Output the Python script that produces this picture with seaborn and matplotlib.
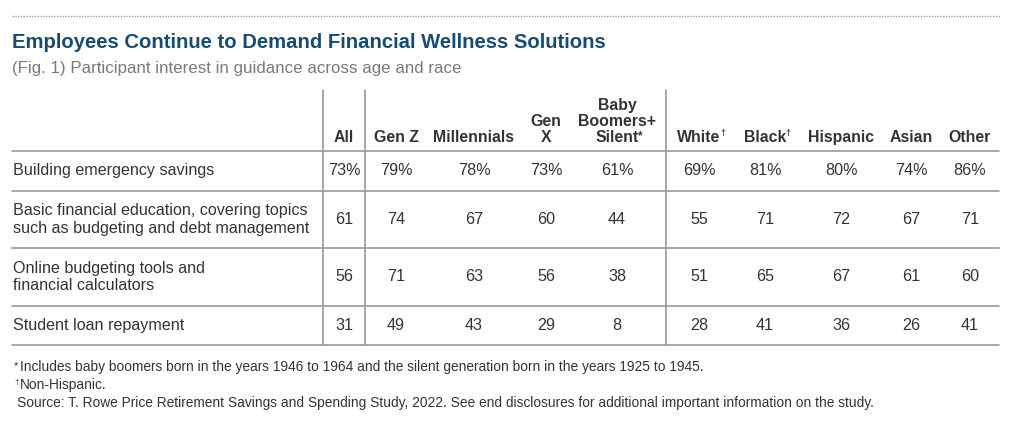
import matplotlib
matplotlib.use("Agg")
from matplotlib import pyplot as plt
from matplotlib import font_manager
import seaborn as sns

sns.set_style("white")
plt.rcParams['font.family'] = ['Liberation Sans', 'DejaVu Sans']

# 数据
title = "Employees Continue to Demand Financial Wellness Solutions"
subtitle = "(Fig. 1) Participant interest in guidance across age and race"
columns = ["All", "Gen Z", "Millennials", "Gen\nX", "Baby\nBoomers+\nSilent", "White", "Black",
           "Hispanic", "Asian", "Other"]
col_marks = ["", "", "", "", "*", "†", "†", "", "", ""]
rows = ["Building emergency savings",
        "Basic financial education, covering topics\nsuch as budgeting and debt management",
        "Online budgeting tools and\nfinancial calculators",
        "Student loan repayment"]
emergency = [73, 79, 78, 73, 61, 69, 81, 80, 74, 86]
education = [61, 74, 67, 60, 44, 55, 71, 72, 67, 71]
online_tools = [56, 71, 63, 56, 38, 51, 65, 67, 61, 60]
student_loan = [31, 49, 43, 29, 8, 28, 41, 36, 26, 41]
values = [emergency, education, online_tools, student_loan]
notes = ["Includes baby boomers born in the years 1946 to 1964 and the silent generation born in the years 1925 to 1945.",
         "Non-Hispanic.",
         "Source: T. Rowe Price Retirement Savings and Spending Study, 2022. See end disclosures for additional important information on the study."]
note_marks = ["*", "†", ""]

# 版式 (像素)
col_x = [344, 396, 474, 546, 617, 699, 765, 841, 911, 970]
row_lines = [151, 190.5, 248, 305.5, 345]
vlines = [323, 365, 666]
left, right = 12, 999

fig = plt.figure(figsize=(10.24, 4.22), dpi=100)
ax = fig.add_axes([0, 0, 1, 1])
ax.set_xlim(0, 1024)
ax.set_ylim(422, 0)
ax.axis('off')

blue = "#164c74"
grey_txt = "#7a7a7a"
body = "#333333"
line_c = "#9a9a9a"

ax.plot([left, 1000], [16, 16], color="#a0a0a0", lw=1.0, ls=(0, (1, 1)))
ax.text(left, 43, title, fontsize=14.6, fontweight='bold', color=blue, va='center')
ax.text(left, 69, subtitle, fontsize=12.2, color=grey_txt, va='center')

for y in row_lines:
    ax.plot([left, right], [y, y], color=line_c, lw=1.2)
for x in vlines:
    ax.plot([x, x], [90, 345], color=line_c, lw=1.2)

fig.canvas.draw()
renderer = fig.canvas.get_renderer()
inv = ax.transData.inverted()

# 表头
for x, name, mark in zip(col_x, columns, col_marks):
    parts = name.split("\n")
    for k, part in enumerate(reversed(parts)):
        t = ax.text(x, 142 - k * 15.8, part, fontsize=11.4, fontweight='bold', color=body,
                    ha='center', va='baseline')
        if k == 0 and mark:
            bb = t.get_window_extent(renderer)
            x1 = inv.transform((bb.x1, bb.y0))[0]
            size = 8.5 if mark == "*" else 6.5
            ax.text(x1 - 0.5, 139 if mark == "*" else 136, mark, fontsize=size,
                    fontweight='bold', color=body, ha='left', va='baseline')

# 表体
for i, (label, vals) in enumerate(zip(rows, values)):
    yc = (row_lines[i] + row_lines[i + 1]) / 2
    lines = label.split("\n")
    for k, part in enumerate(lines):
        ax.text(left + 1, yc + (k - (len(lines) - 1) / 2) * 17.5, part, fontsize=11.6,
                color=body, va='center')
    for x, v in zip(col_x, vals):
        s = f"{v}%" if i == 0 else f"{v}"
        ax.text(x, yc, s, fontsize=11.6, color=body, ha='center', va='center')

# 注释
try:
    font_manager.findfont('Liberation Sans Narrow', fallback_to_default=False)
    narrow, note_size = ['Liberation Sans Narrow', 'Liberation Sans'], 10.8
except ValueError:
    narrow, note_size = ['Liberation Sans', 'DejaVu Sans'], 9.9
for k, (n, m) in enumerate(zip(notes, note_marks)):
    y = 371 + k * 17.8
    if m:
        if m == "*":
            ax.text(14, y - 9.5, m, fontsize=8, color=body, family=narrow, va='top')
        else:
            ax.text(14, y - 4.5, m, fontsize=6, color=body, family=narrow, va='baseline')
        ax.text(20, y, n, fontsize=note_size, color=body, family=narrow, va='baseline')
    else:
        ax.text(17, y, n, fontsize=note_size, color=body, family=narrow, va='baseline')

plt.savefig('out.png', dpi=100)
